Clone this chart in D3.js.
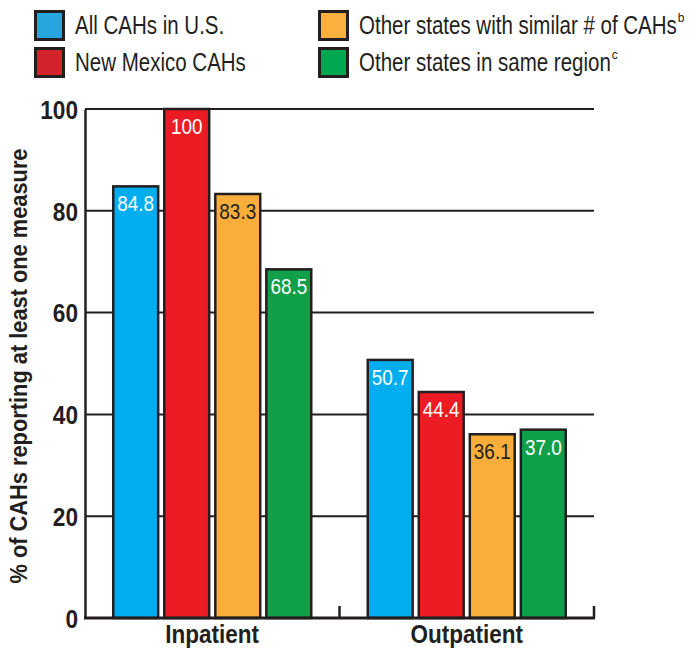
<!DOCTYPE html>
<html>
<head>
<meta charset="utf-8">
<script src="https://cdn.jsdelivr.net/npm/d3@7"></script>
<style>
	body { margin: 0; background: #fff; }
	svg text { font-family: "Liberation Sans", Arial, sans-serif; fill: #231f20; }
</style>
</head>
<body>
<div id="chart"></div>
<script>
"use strict";

// data
const categories = ["Inpatient", "Outpatient"];
const seriesNames = ["All CAHs in U.S.", "New Mexico CAHs", "Other states with similar # of CAHs", "Other states in same region"];
const seriesSup = ["", "", "b", "c"];
const allUS = [84.8, 50.7];
const newMexico = [100, 44.4];
const similarStates = [83.3, 36.1];
const sameRegion = [68.5, 37.0];
const valueLabels = [["84.8", "50.7"], ["100", "44.4"], ["83.3", "36.1"], ["68.5", "37.0"]];
const yTicks = [0, 20, 40, 60, 80, 100];

const barColors = ["#00aeef", "#ed1c24", "#f9ae3c", "#10a04a"];
const legendColors = ["#27a5de", "#d2232a", "#fbb040", "#00a650"];
const labelColors = ["#fff", "#fff", "#231f20", "#fff"];
const ink = "#231f20";

const series = [allUS, newMexico, similarStates, sameRegion];

const W = 697, H = 649;
const margin = { left: 85, right: 103, top: 109, bottom: 31 };

// no condensed font installed, so squeeze the text horizontally
const condense = (sel, factor) => {
	sel.each(function() {
		const w = this.getComputedTextLength();
		d3.select(this)
			.attr("textLength", w * factor)
			.attr("lengthAdjust", "spacingAndGlyphs");
	});
}

const svg = d3.select("#chart").append("svg")
	.attr("width", W)
	.attr("height", H);

const x0 = d3.scaleBand()
	.domain(categories)
	.range([margin.left, W - margin.right])
	.paddingInner(0)
	.paddingOuter(0);

// bars group inside each category band
const x1 = d3.scaleBand()
	.domain(d3.range(series.length))
	.range([-99, 99])
	.paddingInner(0.12)
	.paddingOuter(0);

const y = d3.scaleLinear()
	.domain([0, 100])
	.range([H - margin.bottom, margin.top]);

// gridlines
svg.append("g")
	.selectAll("line")
	.data(yTicks.filter(d => d > 0))
	.enter()
	.append("line")
	.attr("x1", margin.left)
	.attr("x2", W - margin.right)
	.attr("y1", d => y(d))
	.attr("y2", d => y(d))
	.attr("stroke", ink)
	.attr("stroke-width", 2);

// bars
const groups = svg.append("g")
	.selectAll("g")
	.data(series)
	.enter()
	.append("g");

groups.selectAll("rect")
	.data((s, i) => s.map((v, j) => ({ v: v, i: i, j: j })))
	.enter()
	.append("rect")
	.attr("x", d => x0(categories[d.j]) + x0.bandwidth() / 2 + x1(d.i))
	.attr("y", d => y(d.v))
	.attr("width", x1.bandwidth())
	.attr("height", d => y(0) - y(d.v))
	.attr("fill", d => barColors[d.i])
	.attr("stroke", ink)
	.attr("stroke-width", 2.5);

groups.selectAll("text")
	.data((s, i) => s.map((v, j) => ({ v: v, i: i, j: j })))
	.enter()
	.append("text")
	.text(d => valueLabels[d.i][d.j])
	.attr("x", d => x0(categories[d.j]) + x0.bandwidth() / 2 + x1(d.i) + x1.bandwidth() / 2)
	.attr("y", d => y(d.v) + 25)
	.attr("text-anchor", "middle")
	.attr("font-size", "22px")
	.style("fill", d => labelColors[d.i])
	.call(condense, 0.86);

// axes
const yAxis = svg.append("g")
	.attr("transform", "translate(" + margin.left + ",0)")
	.call(d3.axisLeft(y).tickValues(yTicks).tickSize(0).tickPadding(7));
yAxis.select(".domain").attr("stroke", ink).attr("stroke-width", 2.5);
yAxis.selectAll("text")
	.attr("font-size", "26px")
	.attr("font-weight", "bold")
	.attr("font-family", "Liberation Sans, Arial, sans-serif")
	.attr("dy", "0.36em")
	.call(condense, 0.87);

const xAxis = svg.append("g")
	.attr("transform", "translate(0," + y(0) + ")");
xAxis.append("line")
	.attr("x1", margin.left - 1)
	.attr("x2", W - margin.right + 1)
	.attr("stroke", ink)
	.attr("stroke-width", 3);
xAxis.selectAll("line.tick")
	.data(categories)
	.enter()
	.append("line")
	.attr("class", "tick")
	.attr("x1", d => x0(d) + x0.bandwidth())
	.attr("x2", d => x0(d) + x0.bandwidth())
	.attr("y1", 0)
	.attr("y2", -12)
	.attr("stroke", ink)
	.attr("stroke-width", 2.5);
xAxis.selectAll("text")
	.data(categories)
	.enter()
	.append("text")
	.text(d => d)
	.attr("x", d => x0(d) + x0.bandwidth() / 2)
	.attr("y", 25)
	.attr("text-anchor", "middle")
	.attr("font-size", "25px")
	.attr("font-weight", "bold")
	.call(condense, 0.9);

// y title
svg.append("text")
	.text("% of CAHs reporting at least one measure")
	.attr("transform", "translate(27,366) rotate(-90)")
	.attr("text-anchor", "middle")
	.attr("font-size", "23px")
	.attr("font-weight", "bold")
	.attr("textLength", 435)
	.attr("lengthAdjust", "spacingAndGlyphs");

// legend
const legendPos = [[34, 10], [34, 47], [318, 10], [318, 47]];
const legend = svg.append("g")
	.selectAll("g")
	.data(seriesNames)
	.enter()
	.append("g")
	.attr("transform", (d, i) => "translate(" + legendPos[i][0] + "," + legendPos[i][1] + ")");

legend.append("rect")
	.attr("x", 1.5)
	.attr("y", 1.5)
	.attr("width", 28)
	.attr("height", 28)
	.attr("fill", (d, i) => legendColors[i])
	.attr("stroke", ink)
	.attr("stroke-width", 3);

legend.append("text")
	.text(d => d)
	.attr("x", 41)
	.attr("y", 24)
	.attr("font-size", "25px")
	.call(condense, 0.82);

// superscript footnote marks after the compressed legend text
legend.append("text")
	.text((d, i) => seriesSup[i])
	.attr("x", function() {
		const t = this.parentNode.querySelector("text");
		return 42 + (+t.getAttribute("textLength"));
	})
	.attr("y", 12)
	.attr("font-size", "12px");
</script>
</body>
</html>
